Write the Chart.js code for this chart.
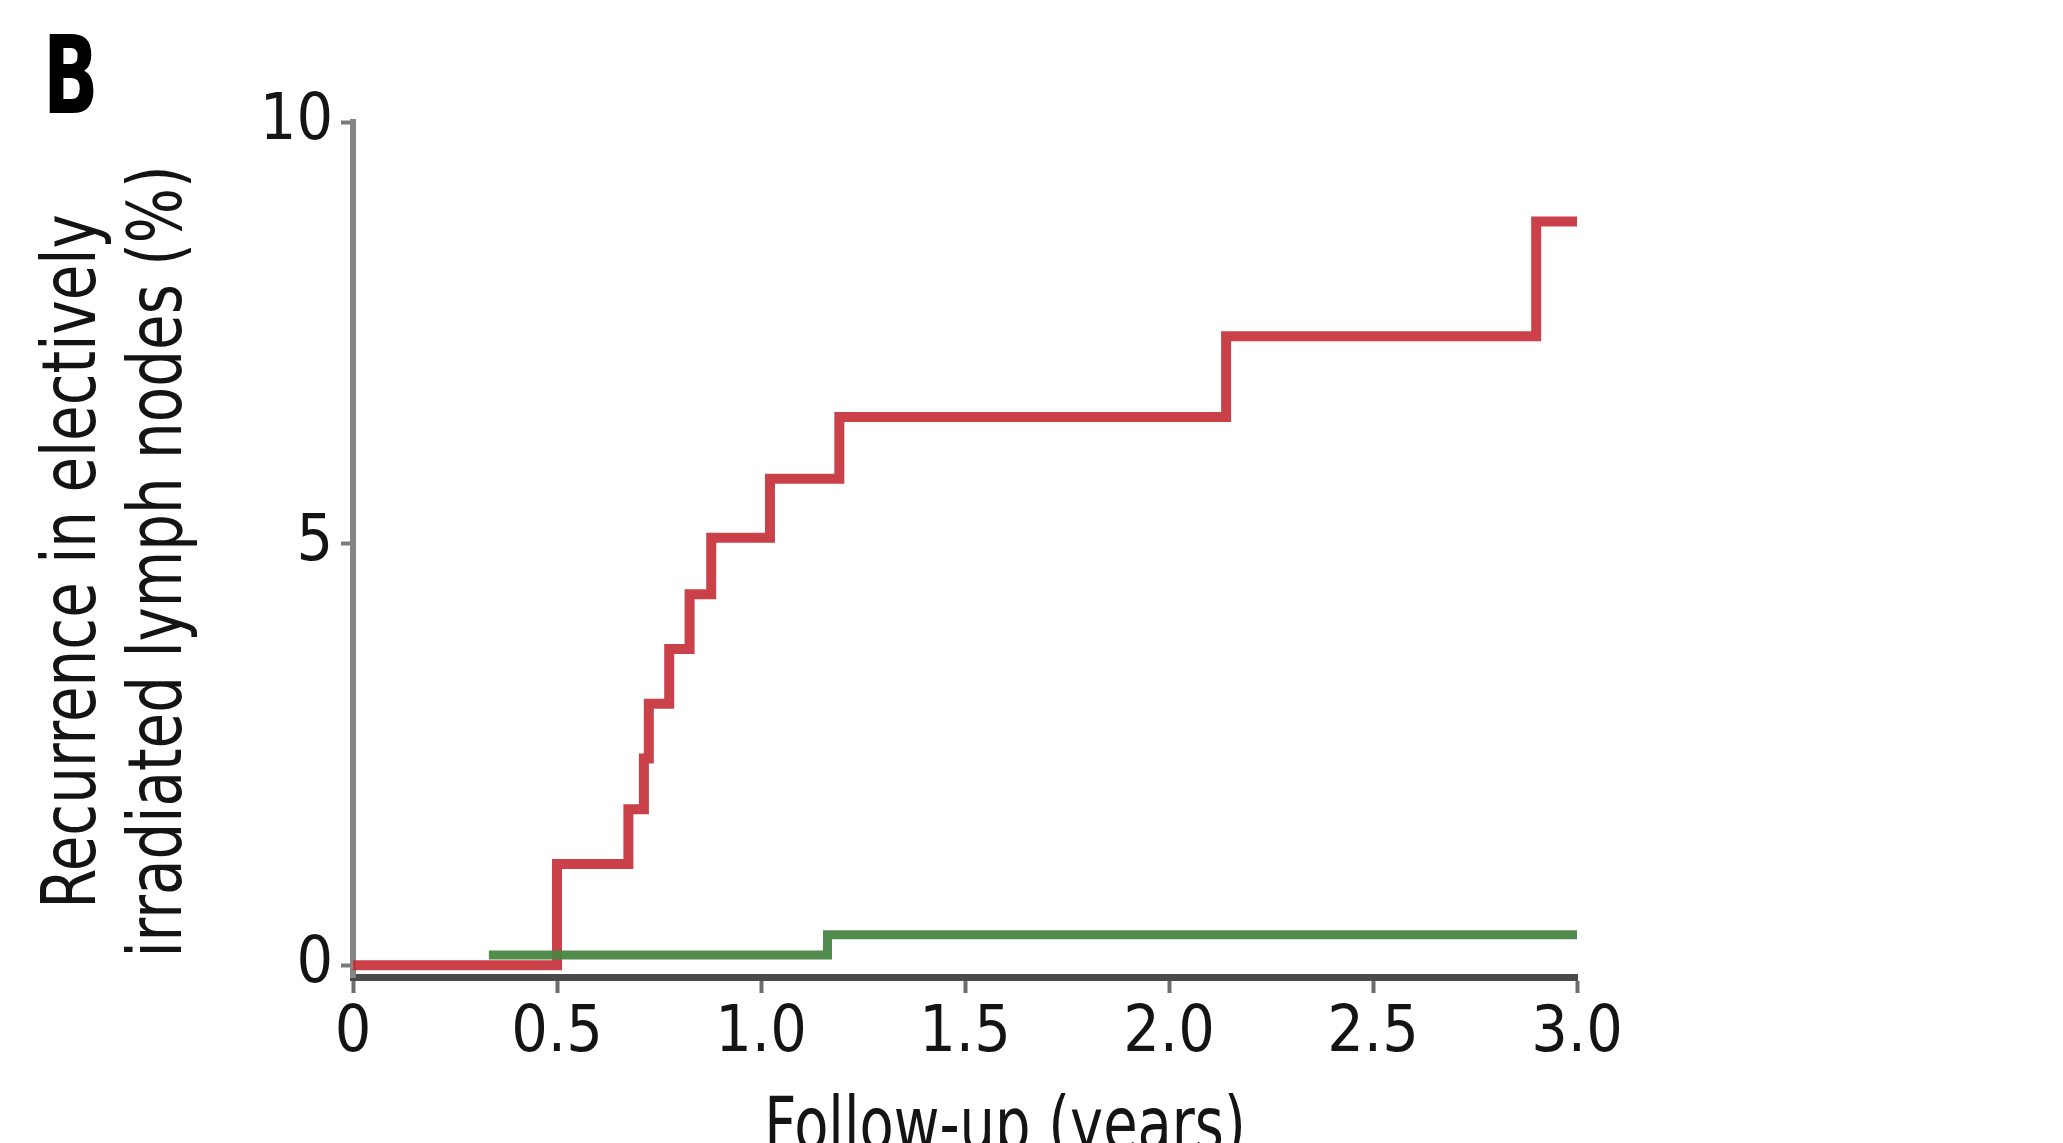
<!DOCTYPE html>
<html>
<head>
<meta charset="utf-8">
<script src="https://cdn.jsdelivr.net/npm/chart.js@4.4.1/dist/chart.umd.min.js"></script>
<style>
  html, body { margin: 0; padding: 0; background: #ffffff; }
  #wrap { position: relative; width: 2063px; height: 1143px; overflow: hidden; }
</style>
</head>
<body>
<div id="wrap"><canvas id="c" width="2063" height="1143"></canvas></div>
<script>
// ---- data ----
const xTickValues = [0, 0.5, 1.0, 1.5, 2.0, 2.5, 3.0];
const xTickLabels = ['0', '0.5', '1.0', '1.5', '2.0', '2.5', '3.0'];
const yTickValues = [0, 5, 10];
const yTickLabels = ['0', '5', '10'];

const redTimes  = [0, 0.50, 0.675, 0.713, 0.725, 0.775, 0.825, 0.878, 1.022, 1.192, 2.14, 2.90, 3.00];
const redValues = [0, 1.20, 1.85, 2.45, 3.10, 3.75, 4.40, 5.07, 5.77, 6.50, 7.46, 8.82, 8.82];

const greenTimes  = [0.333, 1.163, 3.00];
const greenValues = [0.12, 0.36, 0.36];

const panelLabel = 'B';
const xTitle = 'Follow-up (years)';
const yTitle = ['Recurrence in electively', 'irradiated lymph nodes (%)'];

// ---- styling ----
const FONT = "'Liberation Sans Narrow', 'DejaVu Sans Condensed', 'Arial Narrow', sans-serif";
const TEXT = '#141414';

const toPts = (xs, ys) => xs.map((x, i) => ({ x: x, y: ys[i] }));

// panel label and axis titles (condensed text, as in the reference)
const textPlugin = {
  id: 'texts',
  afterDraw(chart) {
    const ctx = chart.ctx;
    const ca = chart.chartArea;
    ctx.save();
    ctx.fillStyle = '#000';
    ctx.textAlign = 'left';
    ctx.textBaseline = 'alphabetic';
    ctx.font = "bold 108px " + FONT;
    ctx.translate(43, 113);
    ctx.scale(0.75, 1);
    ctx.fillText(panelLabel, 0, 0);
    ctx.restore();

    // y title (two lines, rotated)
    const cy = (ca.top + ca.bottom) / 2 + 12;
    yTitle.forEach((line, i) => {
      ctx.save();
      ctx.fillStyle = TEXT;
      ctx.font = "74px " + FONT;
      ctx.textAlign = 'center';
      ctx.textBaseline = 'middle';
      ctx.translate(76 + i * 86, cy);
      ctx.rotate(-Math.PI / 2);
      ctx.scale(0.87, 1);
      ctx.fillText(line, 0, 0);
      ctx.restore();
    });

    // x title
    ctx.save();
    ctx.fillStyle = TEXT;
    ctx.font = "74px " + FONT;
    ctx.textAlign = 'center';
    ctx.textBaseline = 'middle';
    ctx.translate((ca.left + ca.right) / 2 + 40, 1131);
    ctx.scale(0.84, 1);
    ctx.fillText(xTitle, 0, 0);
    ctx.restore();
  }
};

new Chart(document.getElementById('c'), {
  type: 'line',
  data: {
    datasets: [
      {
        label: 'Red',
        data: toPts(redTimes, redValues),
        borderColor: 'rgba(196,44,54,0.9)',
        borderWidth: 10,
        stepped: true,
        pointRadius: 0,
        fill: false,
        order: 1,
        borderCapStyle: 'butt',
        borderJoinStyle: 'miter'
      },
      {
        label: 'Green',
        data: toPts(greenTimes, greenValues),
        borderColor: 'rgba(72,134,68,0.95)',
        borderWidth: 9,
        stepped: true,
        pointRadius: 0,
        fill: false,
        order: 0,
        borderCapStyle: 'butt',
        borderJoinStyle: 'miter'
      }
    ]
  },
  options: {
    responsive: false,
    animation: false,
    events: [],
    layout: { padding: { left: 0, top: 122, right: 486, bottom: 0 } },
    plugins: { legend: { display: false }, tooltip: { enabled: false }, title: { display: false } },
    scales: {
      x: {
        type: 'linear',
        min: 0,
        max: 3.0,
        afterBuildTicks: (s) => { s.ticks = xTickValues.map(v => ({ value: v })); },
        afterFit: (s) => { s.height = 166; },
        ticks: {
          callback: (v, i) => xTickLabels[i],
          color: TEXT,
          font: { family: FONT, size: 64, lineHeight: 1.0 },
          padding: 9,
          maxRotation: 0,
          autoSkip: false
        },
        grid: { drawOnChartArea: false, drawTicks: true, tickLength: 16, tickWidth: 4, tickColor: '#6e6e6e' },
        border: { display: true, color: '#4a4a4a', width: 7 },
        title: { display: false, text: xTitle }
      },
      y: {
        type: 'linear',
        min: -0.14,
        max: 10,
        afterBuildTicks: (s) => { s.ticks = yTickValues.map(v => ({ value: v })); },
        afterFit: (s) => { s.width = 353; },
        ticks: {
          callback: (v, i) => yTickLabels[i],
          color: TEXT,
          font: { family: FONT, size: 64, lineHeight: 1.0 },
          padding: 8,
          autoSkip: false
        },
        grid: { drawOnChartArea: false, drawTicks: true, tickLength: 12, tickWidth: 4, tickColor: '#7a7a7a' },
        border: { display: true, color: '#858585', width: 6 },
        title: { display: false, text: yTitle }
      }
    }
  },
  plugins: [textPlugin]
});
</script>
</body>
</html>
